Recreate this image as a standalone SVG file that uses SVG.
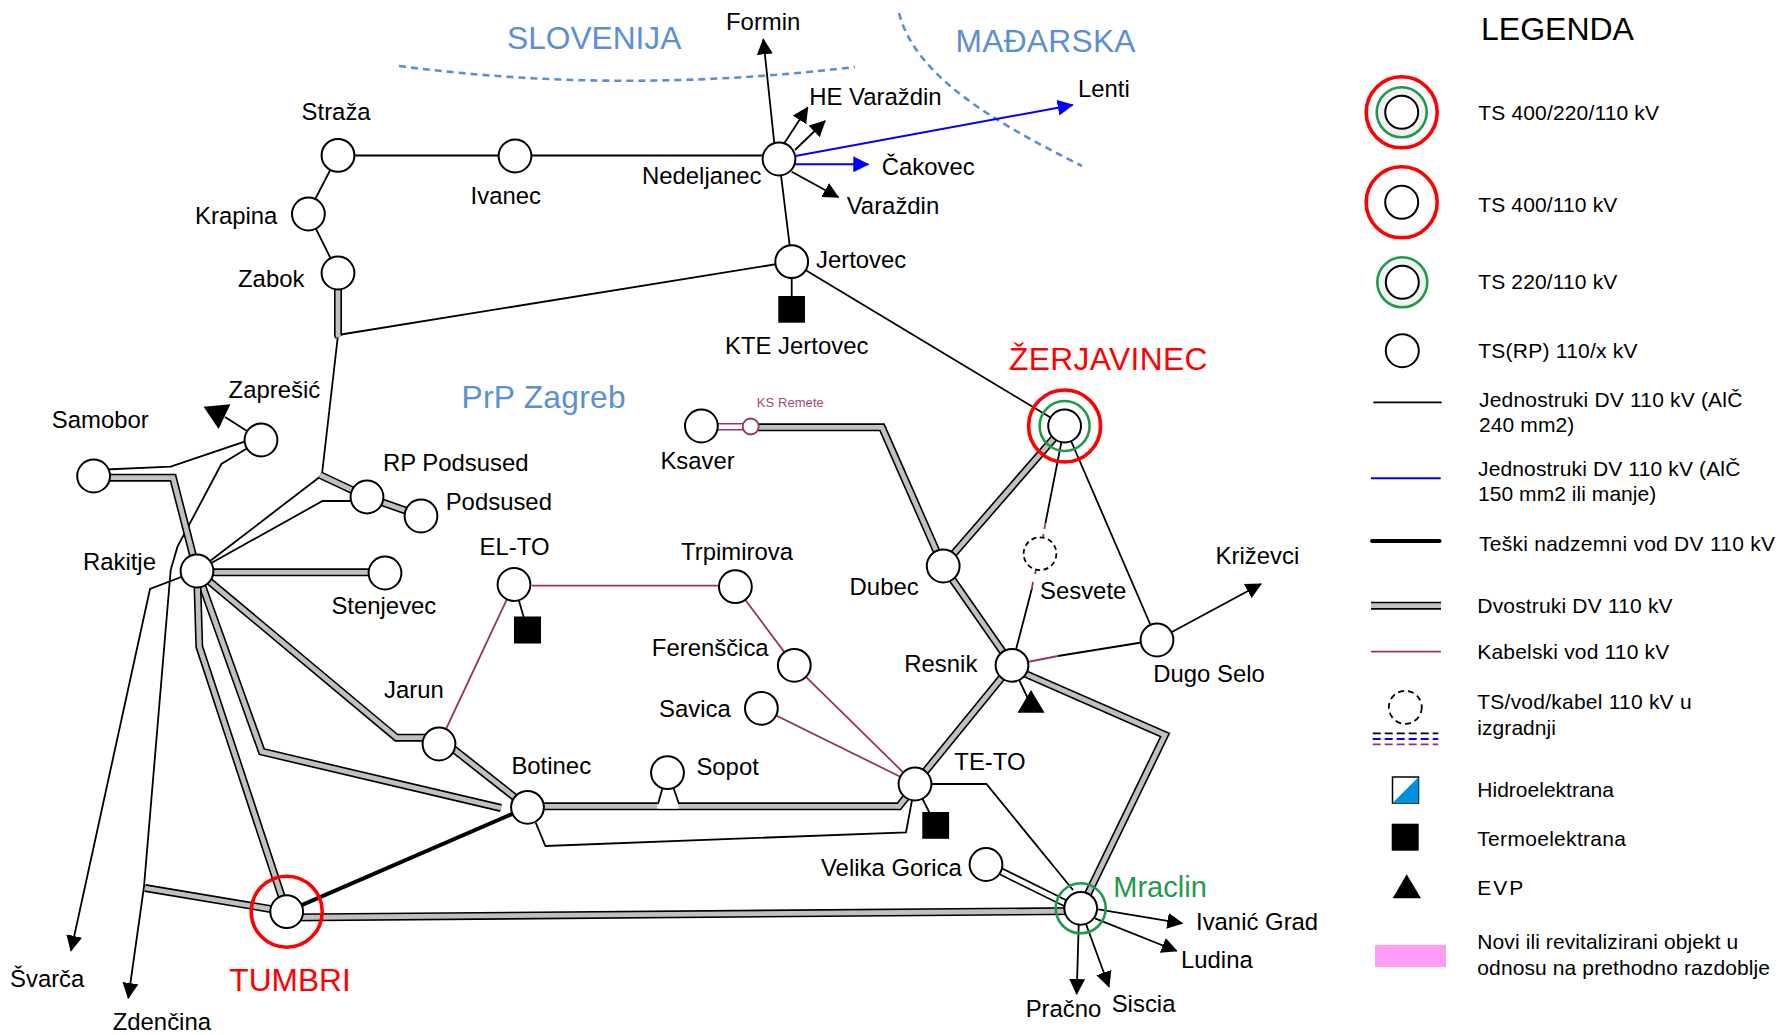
<svg xmlns="http://www.w3.org/2000/svg" width="1778" height="1035" viewBox="0 0 1778 1035">
<style>
text{font-family:"Liberation Sans",Arial,sans-serif;font-size:23.9px;fill:#000}
.leg{font-size:21px}
.reg{font-size:31.7px;fill:#5b8fd5}
.red{font-size:31.7px;fill:#f00}
.grn{font-size:29px;fill:#1f9a4a}
.ks{font-size:13px;fill:#a8447c}
.ts{fill:#fff;stroke:#000;stroke-width:2}
.gr{fill:#f2f2f2;stroke:#1f9a4a;stroke-width:2.6}
.s,.m,.b,.h,.o,.i,.w,.bd,.mo,.mi{fill:none;stroke-linejoin:miter}
.s{stroke:#000;stroke-width:1.8}
.m{stroke:#993366;stroke-width:1.8}
.b{stroke:#00f;stroke-width:2}
.h{stroke:#000;stroke-width:4}
.o{stroke:#000;stroke-width:8}
.i{stroke:#c0c0c0;stroke-width:4.8}
.w{stroke:#fff;stroke-width:4.6}
.mo{stroke:#993366;stroke-width:7.6}
.bd{stroke:#5b8fd5;stroke-width:2.6;stroke-dasharray:7 5}
.dash{stroke-dasharray:8 4;stroke-width:1.8;fill:none}
.blk{fill:#000}
.ah{marker-end:url(#ak)}
.ab{marker-end:url(#ab)}
</style>
<defs>
<marker id="ak" markerUnits="userSpaceOnUse" viewBox="0 0 16 16" markerWidth="16" markerHeight="16" refX="15" refY="8" orient="auto"><path d="M0,0L16,8L0,16Z" fill="#000"/></marker>
<marker id="ab" markerUnits="userSpaceOnUse" viewBox="0 0 16 16" markerWidth="16" markerHeight="16" refX="15" refY="8" orient="auto"><path d="M0,0L16,8L0,16Z" fill="#00f"/></marker>
</defs>
<g id="borders">
<path class="bd" d="M399,66Q620,95 855,67"/>
<path class="bd" d="M899,13C915,75 990,120 1082,166"/>
</g>
<g id="connectors">
<path class="s" d="M338,155.5H779"/>
<path class="s" d="M338,155L308,213L338,273"/>
<path class="s" d="M779,159L791.7,261.7"/>
<path class="s" d="M791.7,261.7L341,334.5"/>
<path class="s" d="M791.7,261.7L1064.6,426"/>
<path class="s" d="M791.7,261.7V309"/>
<path class="s" d="M338,335L322,474"/>
<path class="s" d="M197,571L320,476.7"/>
<path class="s" d="M197,571L322.5,501H367"/>
<path class="s" d="M93.6,470L170.7,466.7L261,436"/>
<path class="s" d="M261,440L225,417"/>
<path class="s ah" d="M261,440L221.4,464L177.5,546.7L170.7,570L144,886.7L128.3,998"/>
<path class="s ah" d="M197,571L150,589L71,950.7"/>
<path class="s" d="M514,584L527.5,630"/>
<path class="s" d="M535.7,822.7L545.4,846L906,832.3L915,784"/>
<path class="s" d="M915,784H986.4L1073,890"/>
<path class="s" d="M915,784L935.7,825"/>
<path class="s" d="M1064.6,426L1045.4,523.3M1032,588L1012,665"/>
<path class="s" d="M1064.6,426L1157,640"/>
<path class="s" d="M1057.9,656L1157,640"/>
<path class="s ah" d="M1157,640L1261,584"/>
<path class="s" d="M1012,665L1031,705"/>
<path class="s ah" d="M774.3,143.3L763.3,39.3"/>
<path class="s ah" d="M784.3,143.3L807.7,107.3"/>
<path class="s ah" d="M795,150L825,121"/>
<path class="s ah" d="M791.7,171.7L838.3,197.3"/>
<path class="b ab" d="M790,157L1072.7,105"/>
<path class="b ab" d="M790,164.3H868.3"/>
<path class="s ah" d="M1098.3,909.3L1182.3,923.3"/>
<path class="s ah" d="M1095,918.3L1176.7,951"/>
<path class="s ah" d="M1086,924L1109,986.7"/>
<path class="s ah" d="M1078.7,925L1076.7,994"/>
<path class="m" d="M532,585.7H735"/>
<path class="m" d="M514,584L439,744"/>
<path class="m" d="M735.4,586.7L794.3,665.3L915,784"/>
<path class="m" d="M761.4,708.3L915,784"/>
<path class="m" d="M1012,665L1057.9,656"/>
<path class="m" d="M1045.4,523.3L1044.4,529M1043.6,534L1042.8,538"/>
<path class="m" d="M1036,570L1035,574M1033,582L1031.6,590"/>
<path class="mo" d="M701,426.7H750"/><path class="w" d="M701,426.7H750"/>
<g id="double-lines">
<path class="o" d="M338,273V335L339,337"/><path class="i" d="M338,273V335L339,337"/>
<path class="o" d="M320,475L367,497L421,516"/><path class="i" d="M320,475L367,497L421,516"/>
<path class="o" d="M93.6,477.7H173L197,571"/><path class="i" d="M93.6,477.7H173L197,571"/>
<path class="o" d="M197,572.3H385"/><path class="i" d="M197,572.3H385"/>
<path class="o" d="M197,571L396.4,737.7H439L527.5,807.3"/><path class="i" d="M197,571L396.4,737.7H439L527.5,807.3"/>
<path class="o" d="M197,571L261.8,751.7L501,808"/><path class="i" d="M197,571L261.8,751.7L501,808"/>
<path class="o" d="M197,571L199.3,646.7L286.7,911.7"/><path class="i" d="M197,571L199.3,646.7L286.7,911.7"/>
<path class="o" d="M145,888L286.7,911.7"/><path class="i" d="M145,888L286.7,911.7"/>
<path class="o" d="M286.7,917.5L1080.7,911"/><path class="i" d="M286.7,917.5L1080.7,911"/>
<path class="o" d="M527.5,806.3H899L915,786"/><path class="i" d="M527.5,806.3H899L915,786"/>
<path class="o" d="M758,427.3H882L943,566"/><path class="i" d="M758,427.3H882L943,566"/>
<path class="o" d="M943,566L1064.6,426"/><path class="i" d="M943,566L1064.6,426"/>
<path class="o" d="M943,566L1012,665"/><path class="i" d="M943,566L1012,665"/>
<path class="o" d="M1012,665L915,784"/><path class="i" d="M1012,665L915,784"/>
<path class="o" d="M1012,668L1165,735L1085,900"/><path class="i" d="M1012,668L1165,735L1085,900"/>
<rect x="657.5" y="801" width="21" height="7.6" fill="#fff"/>
<path class="s" d="M658,804L667,772M679,804L668,772"/>
<path class="o" d="M986,864L1075,908"/><path class="w" d="M986,864L1075,908"/>
</g>
<path class="h" d="M286.7,911.7L527.5,807.3"/>
</g>
<g id="plants">
<rect class="blk" x="778.3" y="296" width="26.7" height="26.7"/>
<rect class="blk" x="514" y="616.5" width="27" height="27"/>
<rect class="blk" x="922.3" y="812" width="26.8" height="26.8"/>
<polygon class="blk" points="1031,690 1017.5,712.7 1044.6,712.7"/>
<polygon class="blk" points="203.6,406.7 230.4,404.3 218.6,429"/>
</g>
<g id="n-nedeljanec"><circle class="ts" cx="779" cy="159" r="16.4"/><text x="642" y="184">Nedeljanec</text></g>
<g id="n-jertovec"><circle class="ts" cx="791.7" cy="261.7" r="16.4"/><text x="816" y="268.3">Jertovec</text><text x="725" y="354">KTE Jertovec</text></g>
<g id="n-straza"><circle class="ts" cx="338" cy="155.4" r="16.4"/><text x="301.6" y="120">Straža</text></g>
<g id="n-ivanec"><circle class="ts" cx="515" cy="156" r="16.4"/><text x="470.6" y="204">Ivanec</text></g>
<g id="n-krapina"><circle class="ts" cx="308.4" cy="214" r="16.4"/><text x="195" y="223.8">Krapina</text></g>
<g id="n-zabok"><circle class="ts" cx="338" cy="273" r="16.4"/><text x="238" y="287">Zabok</text></g>
<g id="n-zapresic"><circle class="ts" cx="261" cy="440" r="16.4"/><text x="228.6" y="397.8">Zaprešić</text></g>
<g id="n-samobor"><circle class="ts" cx="93.6" cy="476" r="16.4"/><text x="51.8" y="428">Samobor</text></g>
<g id="n-rakitje"><circle class="ts" cx="197" cy="571" r="16.4"/><text x="82.9" y="569.6">Rakitje</text></g>
<g id="n-rp-podsused"><circle class="ts" cx="367" cy="497" r="16.4"/><text x="382.9" y="471.4">RP Podsused</text></g>
<g id="n-podsused"><circle class="ts" cx="421" cy="516" r="16.4"/><text x="445.7" y="510">Podsused</text></g>
<g id="n-stenjevec"><circle class="ts" cx="385" cy="573" r="16.4"/><text x="331.4" y="614.4">Stenjevec</text></g>
<g id="n-el-to"><circle class="ts" cx="514" cy="584.5" r="16.4"/><text x="479.6" y="555">EL-TO</text></g>
<g id="n-jarun"><circle class="ts" cx="439" cy="744" r="16.4"/><text x="384" y="698">Jarun</text></g>
<g id="n-botinec"><circle class="ts" cx="527.5" cy="807.3" r="16.4"/><text x="511.4" y="774">Botinec</text></g>
<g id="n-sopot"><circle class="ts" cx="667.5" cy="772.7" r="16.4"/><text x="696.4" y="774.5">Sopot</text></g>
<g id="n-te-to"><circle class="ts" cx="915" cy="784" r="16.4"/><text x="954.3" y="770">TE-TO</text></g>
<g id="n-savica"><circle class="ts" cx="761.4" cy="708.3" r="16.4"/><text x="659" y="717">Savica</text></g>
<g id="n-ferenscica"><circle class="ts" cx="794.3" cy="665.3" r="16.4"/><text x="651.8" y="655.7">Ferenščica</text></g>
<g id="n-trpimirova"><circle class="ts" cx="735.4" cy="586.7" r="16.4"/><text x="681" y="559.5">Trpimirova</text></g>
<g id="n-ksaver"><circle class="ts" cx="701.4" cy="426" r="16.4"/><text x="660.4" y="469">Ksaver</text></g>
<g id="n-ks-remete"><circle cx="750.7" cy="426.5" r="8" fill="#fff" stroke="#993366" stroke-width="1.8"/><text class="ks" x="756.8" y="406.7" textLength="67">KS Remete</text></g>
<g id="n-dubec"><circle class="ts" cx="943.2" cy="566" r="16.4"/><text x="849.6" y="595">Dubec</text></g>
<g id="n-resnik"><circle class="ts" cx="1012" cy="665.3" r="16.4"/><text x="904.3" y="671.5">Resnik</text></g>
<g id="n-sesvete"><circle cx="1040" cy="553.7" r="16.4" fill="#fff" stroke="#000" stroke-width="1.8" stroke-dasharray="5 3.5"/><text x="1040" y="599">Sesvete</text></g>
<g id="n-dugo-selo"><circle class="ts" cx="1157" cy="640" r="16.4"/><text x="1153.3" y="681.5">Dugo Selo</text></g>
<g id="n-velika-gorica"><circle class="ts" cx="986" cy="864.5" r="16.4"/><text x="821" y="875.7">Velika Gorica</text></g>
<g id="n-zerjavinec"><circle cx="1064.6" cy="426" r="36" fill="none" stroke="#f00" stroke-width="3.6"/><circle cx="1064.6" cy="426" r="25" fill="none" stroke="#1f9a4a" stroke-width="2.6"/><circle class="ts" cx="1064.6" cy="426" r="16.4"/><text class="red" x="1009" y="369.7" textLength="198.5">ŽERJAVINEC</text></g>
<g id="n-tumbri"><circle cx="286.7" cy="911.7" r="35.5" fill="none" stroke="#f00" stroke-width="3.6"/><circle class="ts" cx="286.7" cy="911.7" r="16.4"/><text class="red" x="229.3" y="990.7">TUMBRI</text></g>
<g id="n-mraclin"><circle cx="1080.7" cy="908.3" r="25" fill="none" stroke="#1f9a4a" stroke-width="2.6"/><circle class="ts" cx="1080.7" cy="908.3" r="16.4"/><text class="grn" x="1113.3" y="896.7">Mraclin</text></g>
<g id="labels">
<text x="726" y="30">Formin</text>
<text x="809.3" y="105">HE Varaždin</text>
<text x="881.7" y="175">Čakovec</text>
<text x="846.7" y="213.7">Varaždin</text>
<text x="1078" y="96.7">Lenti</text>
<text x="1215.6" y="563.6">Križevci</text>
<text x="1196" y="930">Ivanić Grad</text>
<text x="1181" y="967.7">Ludina</text>
<text x="1025.7" y="1017.3">Pračno</text>
<text x="1111.7" y="1011.7">Siscia</text>
<text x="10" y="986.7">Švarča</text>
<text x="112.7" y="1030">Zdenčina</text>
<text class="reg" x="507" y="48.5">SLOVENIJA</text>
<text class="reg" x="955.5" y="52.3" textLength="180">MAĐARSKA</text>
<text class="reg" x="461.5" y="408" textLength="164">PrP Zagreb</text>
</g>
<g id="legend">
<text x="1481" y="39.7" style="font-size:32px">LEGENDA</text>
<g id="leg-400-220"><circle cx="1401.7" cy="112.3" r="35.5" fill="#fff" stroke="#f00" stroke-width="3.6"/><circle class="gr" cx="1401.7" cy="112.3" r="25"/><circle class="ts" cx="1401.7" cy="112.3" r="16.5"/><text class="leg" x="1478.3" y="120" textLength="180.7">TS 400/220/110 kV</text></g>
<g id="leg-400"><circle cx="1401.7" cy="202.3" r="35.5" fill="#fff" stroke="#f00" stroke-width="3.6"/><circle class="ts" cx="1401.7" cy="202.3" r="16.5"/><text class="leg" x="1478.3" y="211.7" textLength="139">TS 400/110 kV</text></g>
<g id="leg-220"><circle class="gr" cx="1402.3" cy="282.3" r="25"/><circle class="ts" cx="1402.3" cy="282.3" r="16.5"/><text class="leg" x="1478.3" y="289" textLength="139">TS 220/110 kV</text></g>
<g id="leg-110"><circle class="ts" cx="1402.3" cy="350.7" r="16.5"/><text class="leg" x="1478.3" y="357.7" textLength="159.3">TS(RP) 110/x kV</text></g>
<g id="leg-single"><path class="s" d="M1373.3,402.3H1441.7"/><text class="leg" x="1479" y="406.7" textLength="263.3">Jednostruki DV 110 kV (AlČ</text><text class="leg" x="1479" y="431.7" textLength="95.3">240 mm2)</text></g>
<g id="leg-blue"><path class="b" d="M1371,478.3H1440.7"/><text class="leg" x="1478" y="475.7" textLength="262.3">Jednostruki DV 110 kV (AlČ</text><text class="leg" x="1478" y="500.7" textLength="178.3">150 mm2 ili manje)</text></g>
<g id="leg-heavy"><path class="h" stroke-linecap="round" d="M1372,541H1439.5"/><text class="leg" x="1479" y="550.7" textLength="296">Teški nadzemni vod DV 110 kV</text></g>
<g id="leg-double"><path class="o" d="M1371,605.7H1441"/><path class="i" d="M1371,605.7H1441"/><text class="leg" x="1477.3" y="612.7" textLength="195.3">Dvostruki DV 110 kV</text></g>
<g id="leg-cable"><path class="m" d="M1371,651.7H1441"/><text class="leg" x="1477.3" y="659" textLength="192">Kabelski vod 110 kV</text></g>
<g id="leg-build"><circle cx="1405.3" cy="707.3" r="16.5" fill="#fff" stroke="#000" stroke-width="1.8" stroke-dasharray="6 4"/><path class="dash" stroke="#000" d="M1372.7,733.3H1438.3"/><path class="dash" stroke="#00f" d="M1372.7,739H1438.3"/><path class="dash" stroke="#993366" d="M1372.7,744.3H1438.3"/><text class="leg" x="1477.3" y="709" textLength="214.3">TS/vod/kabel 110 kV u</text><text class="leg" x="1477.3" y="735" textLength="78.7">izgradnji</text></g>
<g id="leg-hydro"><rect x="1392.5" y="777" width="26" height="26" fill="#fff" stroke="#000" stroke-width="1.5"/><polygon points="1418.5,777 1418.5,803 1392.5,803" fill="#0090dc"/><text class="leg" x="1477.3" y="796.7" textLength="136.7">Hidroelektrana</text></g>
<g id="leg-thermal"><rect class="blk" x="1391.7" y="823.7" width="27" height="27"/><text class="leg" x="1477.3" y="845.7" textLength="148.7">Termoelektrana</text></g>
<g id="leg-evp"><polygon class="blk" points="1406.7,874.3 1392.7,898.3 1421,898.3"/><text class="leg" x="1477.3" y="895" textLength="46">EVP</text></g>
<g id="leg-new"><rect x="1375" y="945" width="71" height="22" fill="#ff9cf5"/><text class="leg" x="1477.3" y="949" textLength="261">Novi ili revitalizirani objekt u</text><text class="leg" x="1477.3" y="975" textLength="292.7">odnosu na prethodno razdoblje</text></g>
</g>
</svg>
